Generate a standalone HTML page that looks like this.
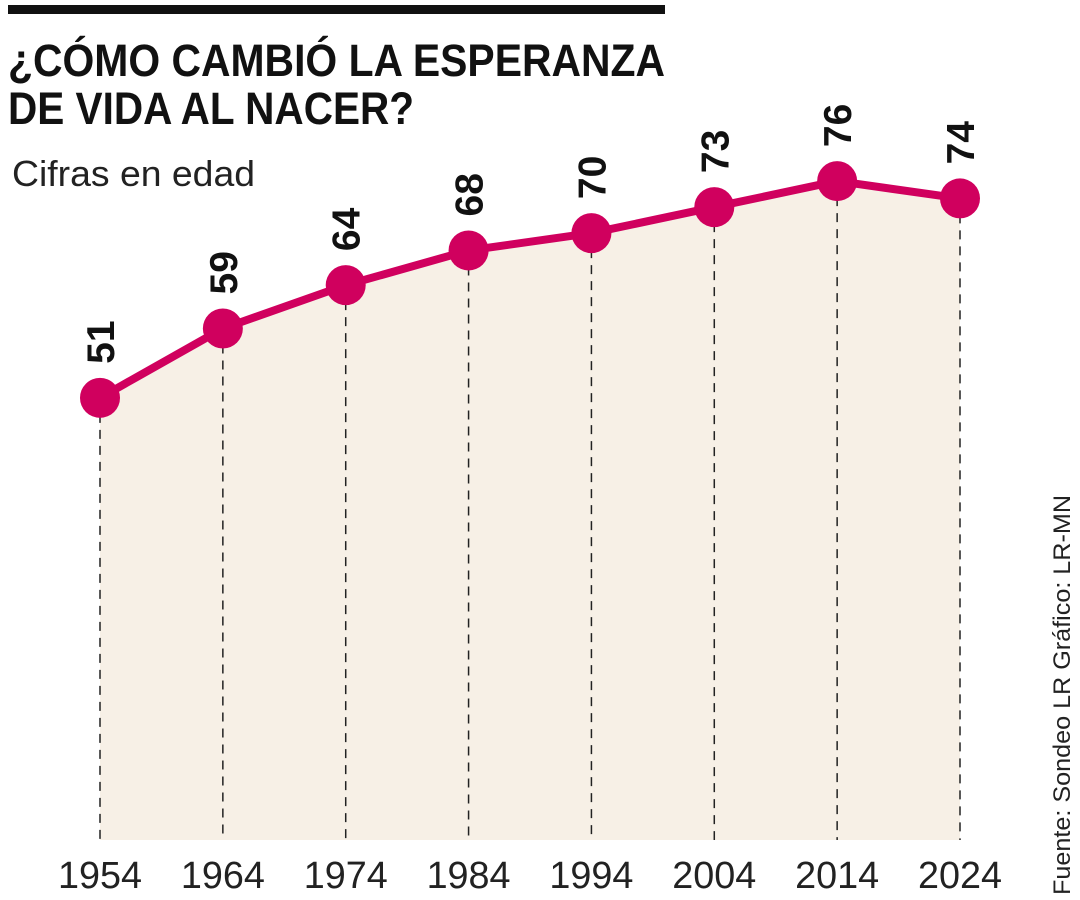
<!DOCTYPE html>
<html><head><meta charset="utf-8"><style>
html,body{margin:0;padding:0;background:#fff;}
svg{display:block;font-family:"Liberation Sans",sans-serif;}
</style></head><body>
<svg width="1080" height="900" viewBox="0 0 1080 900">
<rect x="8" y="5" width="657" height="9" fill="#111"/>
<text x="8" y="76" font-size="45" font-weight="bold" fill="#111" textLength="657" lengthAdjust="spacingAndGlyphs">¿CÓMO CAMBIÓ LA ESPERANZA</text>
<text x="8" y="124" font-size="45" font-weight="bold" fill="#111" textLength="406" lengthAdjust="spacingAndGlyphs">DE VIDA AL NACER?</text>
<text x="12" y="186" font-size="36" fill="#222" textLength="243" lengthAdjust="spacingAndGlyphs">Cifras en edad</text>
<text transform="translate(1070,895) rotate(-90)" font-size="24" fill="#222" textLength="400" lengthAdjust="spacingAndGlyphs">Fuente: Sondeo LR  Gráfico: LR-MN</text>
<g id="plot"></g>
</svg>
<script>
const years = ["1954","1964","1974","1984","1994","2004","2014","2024"];
const values = [51,59,64,68,70,73,76,74];
const labels = ["51","59","64","68","70","73","76","74"];
const ns="http://www.w3.org/2000/svg";
const g=document.getElementById('plot');
const x0=100,x1=960,yBase=840,pxPerUnit=8.67;
function xs(i){return x0+i*(x1-x0)/(years.length-1);}
function ys(v){return yBase-v*pxPerUnit;}
function mk(t,a){const e=document.createElementNS(ns,t);for(const k in a)e.setAttribute(k,a[k]);g.appendChild(e);return e;}
let d="M"+xs(0)+","+yBase;
values.forEach((v,i)=>{d+=" L"+xs(i)+","+ys(v);});
d+=" L"+xs(values.length-1)+","+yBase+" Z";
const area=mk('path',{d:d,fill:'#f7f0e6'});


values.forEach((v,i)=>{
 const l=mk('line',{x1:xs(i),x2:xs(i),y1:ys(v),y2:yBase,stroke:'#222','stroke-width':1.5,'stroke-dasharray':'9,7'});
 
 
});
const pts=values.map((v,i)=>xs(i)+","+ys(v)).join(" ");
const line=mk('polyline',{points:pts,fill:'none',stroke:'#d0005e','stroke-width':8,'stroke-linejoin':'round'});


values.forEach((v,i)=>{
 const c=mk('circle',{cx:xs(i),cy:ys(v),r:20,fill:'#d0005e'});
 
 
 const t=mk('text',{transform:'translate('+(xs(i)+14)+','+(ys(v)-34)+') rotate(-90)','font-size':39,'font-weight':'bold',fill:'#111'});
 t.textContent=labels[i];
 
 
 const yt=mk('text',{x:xs(i),y:888,'text-anchor':'middle','font-size':38,fill:'#222',textLength:84,lengthAdjust:'spacingAndGlyphs'});
 yt.textContent=years[i];
 
 
});
</script>
</body></html>
